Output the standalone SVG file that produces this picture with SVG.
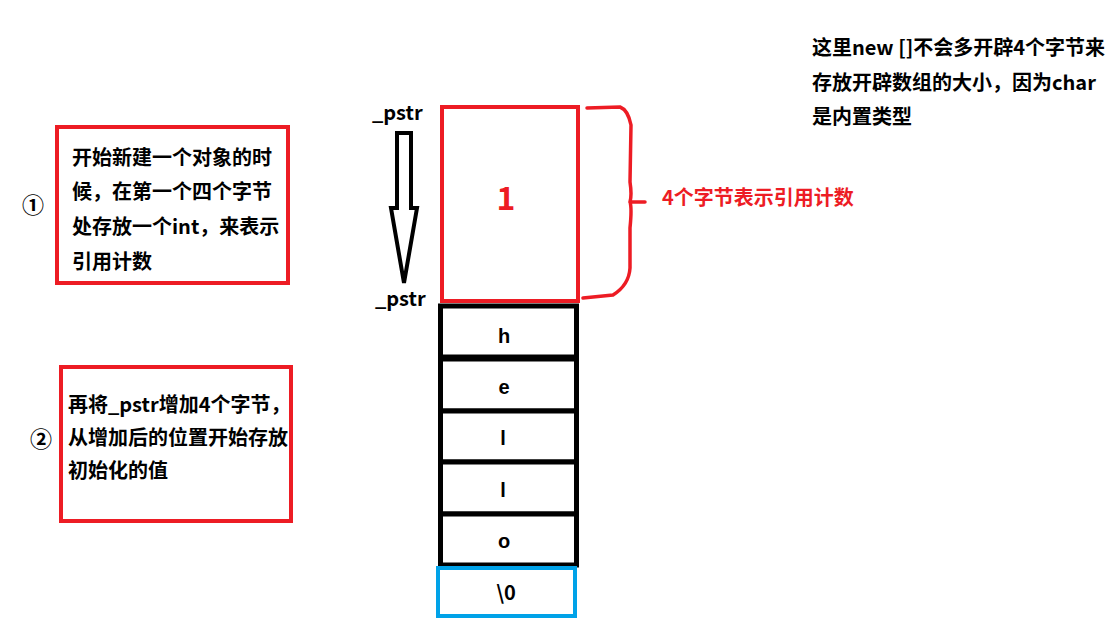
<svg xmlns="http://www.w3.org/2000/svg" width="1116" height="636" viewBox="0 0 1116 636">
<style>
text{font-family:"Microsoft YaHei","Noto Sans CJK SC","Noto Sans",sans-serif;font-weight:bold;font-size:20px;fill:#000}
.red{fill:#ed1c24}
.box{fill:none;stroke:#ed1c24;stroke-width:4}
.cell{fill:#fff;stroke:#000;stroke-width:5}
.c{text-anchor:middle}
.lat{font-family:"Liberation Sans",Arial,sans-serif}
</style>
<rect width="1116" height="636" fill="#fff"/>
<g id="note">
<text x="812" y="55">这里new []不会多开辟4个字节来</text>
<text x="812" y="90">存放开辟数组的大小，因为char</text>
<text x="812" y="124">是内置类型</text>
</g>
<g id="step1">
<text x="33" y="213" class="c" style="font-size:22px">①</text>
<rect x="57" y="127" width="231" height="156" class="box"/>
<text x="72" y="165">开始新建一个对象的时</text>
<text x="72" y="199">候，在第一个四个字节</text>
<text x="72" y="234">处存放一个int，来表示</text>
<text x="72" y="269">引用计数</text>
</g>
<g id="step2">
<text x="41" y="447" class="c" style="font-size:22px">②</text>
<rect x="61" y="367" width="230" height="154" class="box"/>
<text x="68" y="412">再将_pstr增加4个字节，</text>
<text x="68" y="445">从增加后的位置开始存放</text>
<text x="68" y="478">初始化的值</text>
</g>
<g id="cells">
<rect x="440.5" y="306" width="136" height="51" class="cell"/>
<rect x="440.5" y="359" width="136" height="52" class="cell"/>
<rect x="440.5" y="411" width="136" height="51" class="cell"/>
<rect x="440.5" y="462" width="136" height="52" class="cell"/>
<rect x="440.5" y="514" width="136" height="51" class="cell"/>
<text x="504" y="343" class="c lat">h</text>
<text x="504" y="394" class="c lat">e</text>
<text x="503" y="445" class="c lat">l</text>
<text x="503" y="497" class="c lat">l</text>
<text x="504" y="548" class="c lat">o</text>
</g>
<g id="nul">
<rect x="438" y="568" width="137" height="48" fill="#fff" stroke="#00a2e8" stroke-width="4"/>
<text x="506" y="600" class="c">\0</text>
</g>
<g id="refcount">
<rect x="442" y="107" width="136" height="194" fill="#fff" stroke="#ed1c24" stroke-width="4"/>
<text x="506" y="210" class="c red" style="font-size:32px">1</text>
</g>
<g id="labels">
<text x="372" y="120">_pstr</text>
<text x="375" y="306">_pstr</text>
</g>
<g id="connectors">
<polygon points="397,133 411,133 411,208 417,208 404,283 391,208 397,208" fill="#fff" stroke="#000" stroke-width="4" stroke-linejoin="miter"/>
<path d="M587,108 L620,107 Q628,110 631,125 L630,182 Q632,195 630,202 L645,202 M630,202 Q632,208 630,228 L630,268 Q629,285 613,295 L583,298" fill="none" stroke="#ed1c24" stroke-width="3.5" stroke-linecap="round" stroke-linejoin="round"/>
</g>
<g id="brace-label">
<text x="662" y="205" class="red">4个字节表示引用计数</text>
</g>
</svg>
